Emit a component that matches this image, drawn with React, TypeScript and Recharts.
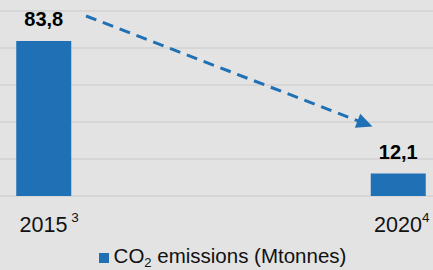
import React from 'react';
import { BarChart, Bar, XAxis, YAxis, CartesianGrid, LabelList, Legend, ReferenceLine } from 'recharts';

const years = [2015, 2020];
const emissions = [83.8, 12.1];
const tickNotes = [' 3', '4'];
const yTicks = [0, 20, 40, 60, 80, 100];
const seriesName = 'CO2 emissions (Mtonnes)';
// trend arrow (data coordinates): start and tip
const arrowX = [2015.6, 2019.64];
const arrowY = [97.3, 37.6];

const data = years.map((y, i) => ({ year: y, value: emissions[i], note: tickNotes[i] }));

const BLUE = '#1f70b5';
const FONT = '"Liberation Sans", Arial, sans-serif';

const Tick = (props: any) => {
  const { x, y, payload } = props;
  const i = years.indexOf(payload.value);
  const note = i >= 0 ? tickNotes[i] : '';
  return (
    <g>
      <text x={x} y={y + 28} textAnchor="middle" fontSize={21.5} fill="#111" fontFamily={FONT}>
        {payload.value}
      </text>
      <text x={x + 24} y={y + 18} textAnchor="start" fontSize={13.5} fill="#111" fontFamily={FONT} style={{ whiteSpace: 'pre' }}>
        {note}
      </text>
    </g>
  );
};

const ArrowShape = (props: any) => {
  const { x1, y1, x2, y2 } = props;
  if ([x1, y1, x2, y2].some((v) => typeof v !== 'number' || isNaN(v))) return null;
  const dx = x2 - x1;
  const dy = y2 - y1;
  const len = Math.sqrt(dx * dx + dy * dy);
  const ux = dx / len;
  const uy = dy / len;
  const headLen = 16;
  const half = 7.5;
  const bx = x2 - ux * headLen;
  const by = y2 - uy * headLen;
  const px = -uy;
  const py = ux;
  return (
    <g>
      <line x1={x1} y1={y1} x2={bx + ux * 2} y2={by + uy * 2} stroke={BLUE} strokeWidth={3} strokeDasharray="11 7" />
      <polygon
        points={`${x2},${y2} ${bx + px * half},${by + py * half} ${bx - px * half},${by - py * half}`}
        fill={BLUE}
      />
    </g>
  );
};

const LegendContent = () => (
  <div
    style={{
      height: 34,
      display: 'flex',
      alignItems: 'flex-start',
      justifyContent: 'center',
      fontFamily: FONT,
      fontSize: 20.5,
      color: '#111',
      paddingLeft: 12,
      paddingTop: 10,
      boxSizing: 'border-box',
      overflow: 'visible',
    }}
  >
    <div style={{ display: 'flex', alignItems: 'center', lineHeight: '22px', height: 22 }}>
      <span style={{ display: 'inline-block', width: 10, height: 10, background: BLUE, marginRight: 5, marginTop: 2 }} />
      <span style={{ whiteSpace: 'nowrap' }}>
        CO<span style={{ fontSize: 13, position: 'relative', top: 4 }}>2</span> emissions (Mtonnes)
      </span>
    </div>
  </div>
);

export default function App() {
  return (
    <div style={{ position: 'fixed', left: 0, top: 0, width: 433, height: 270, background: '#e3e3e3', overflow: 'hidden' }}>
      <BarChart width={433} height={270} data={data} margin={{ top: 11, right: 0, left: 0, bottom: 0 }}>
        <CartesianGrid vertical={false} stroke="#d2d2d2" strokeWidth={1.5} />
        <XAxis
          dataKey="year"
          type="number"
          domain={[years[0], years[1]]}
          ticks={years}
          padding={{ left: 43.5, right: 35 }}
          axisLine={false}
          tickLine={false}
          height={40}
          tick={<Tick />}
          interval={0}
        />
        <YAxis hide domain={[0, 100]} ticks={yTicks} />
        <Bar dataKey="value" name={seriesName} fill={BLUE} barSize={55} isAnimationActive={false}>
          <LabelList
            dataKey="value"
            position="top"
            offset={15}
            formatter={(v: any) => String(v).replace('.', ',')}
            style={{ fontFamily: FONT, fontSize: 20, fontWeight: 700, fill: '#000' }}
          />
        </Bar>
        <ReferenceLine
          segment={[
            { x: arrowX[0], y: arrowY[0] },
            { x: arrowX[1], y: arrowY[1] },
          ]}
          ifOverflow="visible"
          shape={<ArrowShape />}
        />
        <Legend verticalAlign="bottom" content={<LegendContent />} wrapperStyle={{ height: 34 }} />
      </BarChart>
    </div>
  );
}
